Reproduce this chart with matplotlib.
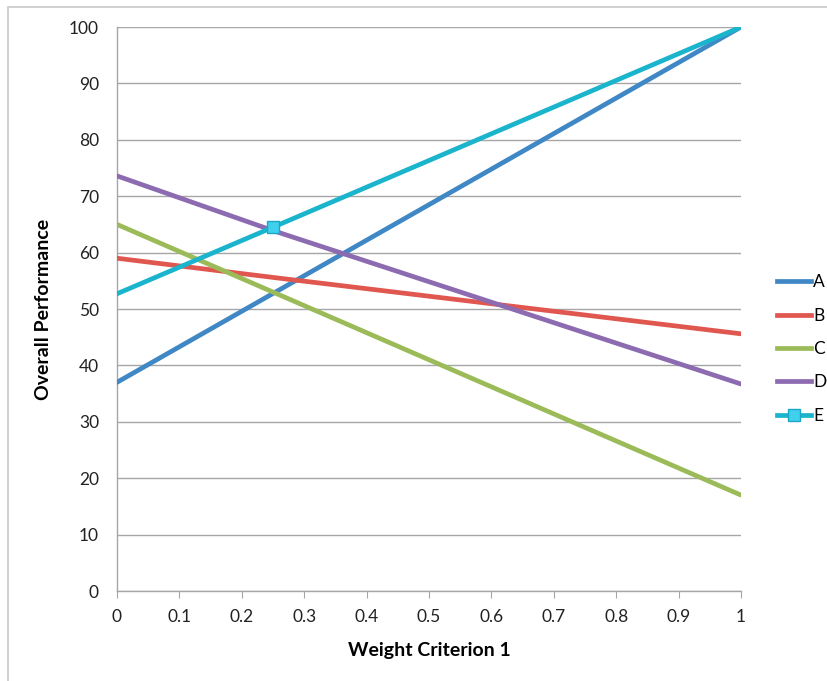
import matplotlib.pyplot as plt
from matplotlib.lines import Line2D

plt.rcParams['font.family'] = ['Lato', 'DejaVu Sans']

# === DATA ===
weights = [0, 0.25, 1]
series = {
    'A': [37.0, 52.75, 100.0],
    'B': [59.0, 55.6, 45.6],
    'C': [65.0, 53.0, 17.0],
    'D': [73.6, 63.9, 36.7],
    'E': [52.7, 64.5, 100.0],
}
colors = {
    'A': '#3f88c5',
    'B': '#e0574f',
    'C': '#9bbb59',
    'D': '#8c6bb1',
    'E': '#1ab5cc',
}
x_ticks = [0, 0.1, 0.2, 0.3, 0.4, 0.5, 0.6, 0.7, 0.8, 0.9, 1]
x_tick_labels = ['0', '0.1', '0.2', '0.3', '0.4', '0.5', '0.6', '0.7', '0.8', '0.9', '1']
y_ticks = [0, 10, 20, 30, 40, 50, 60, 70, 80, 90, 100]

fig = plt.figure(figsize=(8.27, 6.81), dpi=100)
ax = fig.add_axes([117 / 827, 1 - 591 / 681, 624 / 827, 564 / 681])

# outer chart frame
fig.add_artist(plt.Rectangle((8 / 827, -0.2), 1.2, 1 - 7 / 681 + 0.2,
                             transform=fig.transFigure, fill=False,
                             edgecolor='#c8c8c8', linewidth=1.2))

for name, vals in series.items():
    if name == 'E':
        ax.plot(weights, vals, color=colors[name], linewidth=3.4, marker='s',
                markevery=[1], markersize=9, markerfacecolor='#3fd0ee',
                markeredgecolor='#1aa8c4', solid_capstyle='round', zorder=3)
    else:
        ax.plot(weights, vals, color=colors[name], linewidth=3.4,
                solid_capstyle='round', zorder=3)

ax.set_xlim(0, 1)
ax.set_ylim(0, 100)
ax.set_xticks(x_ticks)
ax.set_xticklabels(x_tick_labels)
ax.set_yticks(y_ticks)
ax.yaxis.grid(True, color='#a6a6a6', linewidth=1.0)
ax.set_axisbelow(True)

for s in ['top', 'right']:
    ax.spines[s].set_visible(False)
ax.spines['left'].set_color('#a6a6a6')
ax.spines['bottom'].set_color('#a6a6a6')
ax.spines['left'].set_linewidth(1.0)
ax.spines['bottom'].set_linewidth(1.0)
ax.tick_params(axis='x', direction='out', length=5, color='#a6a6a6',
               labelsize=12.5, pad=8, labelcolor='#222222')
ax.tick_params(axis='y', length=0, labelsize=12.5, pad=13, labelcolor='#222222')
ax.tick_params(axis='y', which='major', left=False)

ax.set_xlabel('Weight Criterion 1', fontsize=14, fontweight='bold', labelpad=12)
ax.set_ylabel('Overall Performance', fontsize=14, fontweight='bold', labelpad=12)

handles = []
for name in series:
    if name == 'E':
        h = Line2D([], [], color=colors[name], linewidth=3.4, marker='s',
                   markersize=8, markerfacecolor='#3fd0ee', markeredgecolor='#1aa8c4')
    else:
        h = Line2D([], [], color=colors[name], linewidth=3.4)
    handles.append(h)

fig.legend(handles, list(series.keys()), loc='center left',
           bbox_to_anchor=(768 / 827, 1 - 349 / 681), frameon=False,
           fontsize=12.5, handlelength=2.0, handletextpad=0.1,
           labelspacing=1.0, borderpad=0)

fig.savefig('out.png', dpi=100)
